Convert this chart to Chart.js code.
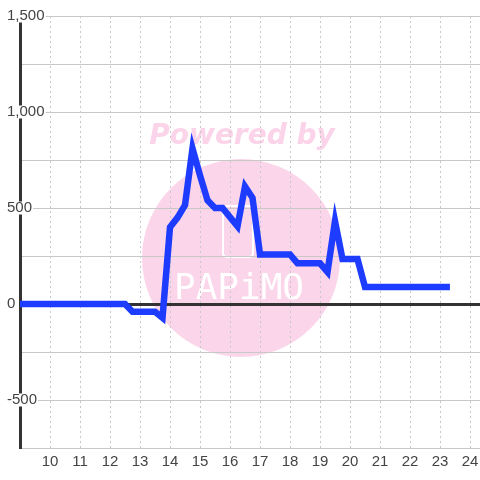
<!DOCTYPE html>
<html>
<head>
<meta charset="utf-8">
<script src="https://cdn.jsdelivr.net/npm/chart.js@4"></script>
<style>
  html, body { margin: 0; padding: 0; background: #fff; }
  #wrap { width: 480px; height: 480px; }
</style>
</head>
<body>
<div id="wrap"><canvas id="chart"></canvas></div>
<script>
// hour of day / value
const hours = [8.5, 12.5, 12.75, 13.5, 13.75, 14, 14.25, 14.5, 14.75, 15, 15.25, 15.5, 15.75,
  16.25, 16.5, 16.75, 17, 18, 18.25, 19, 19.25, 19.5, 19.75, 20.25, 20.5, 23.33];
const values = [0, 0, -40, -40, -72, 400, 450, 515, 810, 670, 540, 500, 500,
  405, 612, 553, 258, 258, 212, 212, 167, 432, 234, 234, 88, 88];
const xTicks = [10, 11, 12, 13, 14, 15, 16, 17, 18, 19, 20, 21, 22, 23, 24];
const yLabels = [1500, 1000, 500, 0, -500];

// watermark drawn under everything
const watermark = {
  id: 'watermark',
  beforeDraw(chart) {
    const ctx = chart.ctx;
    ctx.save();
    ctx.fillStyle = '#fbd6eb';
    ctx.beginPath();
    ctx.arc(241, 258, 99, 0, Math.PI * 2);
    ctx.fill();

    ctx.font = 'italic bold 28px "DejaVu Sans"';
    ctx.textAlign = 'center';
    ctx.textBaseline = 'alphabetic';
    ctx.fillStyle = '#fcd4ea';
    ctx.fillText('Powered by', 242, 144);

    ctx.strokeStyle = '#fff';
    ctx.lineWidth = 2;
    ctx.beginPath();
    ctx.roundRect(223, 206, 30, 51, 4);
    ctx.stroke();

    ctx.fillStyle = '#fff';
    ctx.font = '36px "DejaVu Sans Mono"';
    ctx.textBaseline = 'middle';
    ctx.fillText('PAPiMO', 239, 290);
    ctx.restore();
  }
};

const ctx = document.getElementById('chart').getContext('2d');
const chart = new Chart(ctx, {
  type: 'line',
  data: {
    datasets: [{
      data: hours.map((h, i) => ({ x: h, y: values[i] })),
      borderColor: '#1e3cff',
      borderWidth: 6.5,
      pointRadius: 0,
      tension: 0,
      fill: false
    }]
  },
  options: {
    responsive: true,
    maintainAspectRatio: false,
    animation: false,
    layout: { padding: { left: 7, top: 16, right: 0, bottom: 4 } },
    plugins: { legend: { display: false }, tooltip: { enabled: false } },
    scales: {
      x: {
        type: 'linear',
        min: 9,
        max: 24.333,
        afterBuildTicks: s => { s.ticks = [9].concat(xTicks).map(v => ({ value: v })); },
        afterFit: s => { s.paddingLeft = 0; s.paddingRight = 0; },
        grid: { color: '#c8c8c8', lineWidth: 1, drawTicks: false },
        border: { color: '#c8c8c8', width: 1, dash: [2, 3] },
        ticks: {
          autoSkip: false,
          maxRotation: 0,
          padding: 5,
          color: '#444',
          font: { family: '"Liberation Sans", Arial, sans-serif', size: 15 },
          callback: v => (xTicks.includes(v) ? String(v) : '')
        }
      },
      y: {
        min: -750,
        max: 1500,
        afterFit: s => {
          s.width = 13;
          s.paddingTop = 0;
          s.paddingBottom = 0;
          // labels overhang the axis line, don't clip them to the scale box
          s._computeLabelArea = () => null;
        },
        grid: {
          drawTicks: false,
          color: c => (c.tick && c.tick.value === 0 ? '#333' : '#c8c8c8'),
          lineWidth: c => (c.tick && c.tick.value === 0 ? 3 : 1)
        },
        border: { color: '#333', width: 3 },
        ticks: {
          stepSize: 250,
          crossAlign: 'far',
          padding: 0,
          color: '#444',
          showLabelBackdrop: true,
          backdropColor: '#fff',
          backdropPadding: { top: -1, bottom: -1, left: 1, right: 1 },
          font: { family: '"Liberation Sans", Arial, sans-serif', size: 15, lineHeight: 1 },
          callback: v => (yLabels.includes(v) ? v.toLocaleString('en-US') : '')
        }
      }
    }
  },
  plugins: [watermark]
});
</script>
</body>
</html>
